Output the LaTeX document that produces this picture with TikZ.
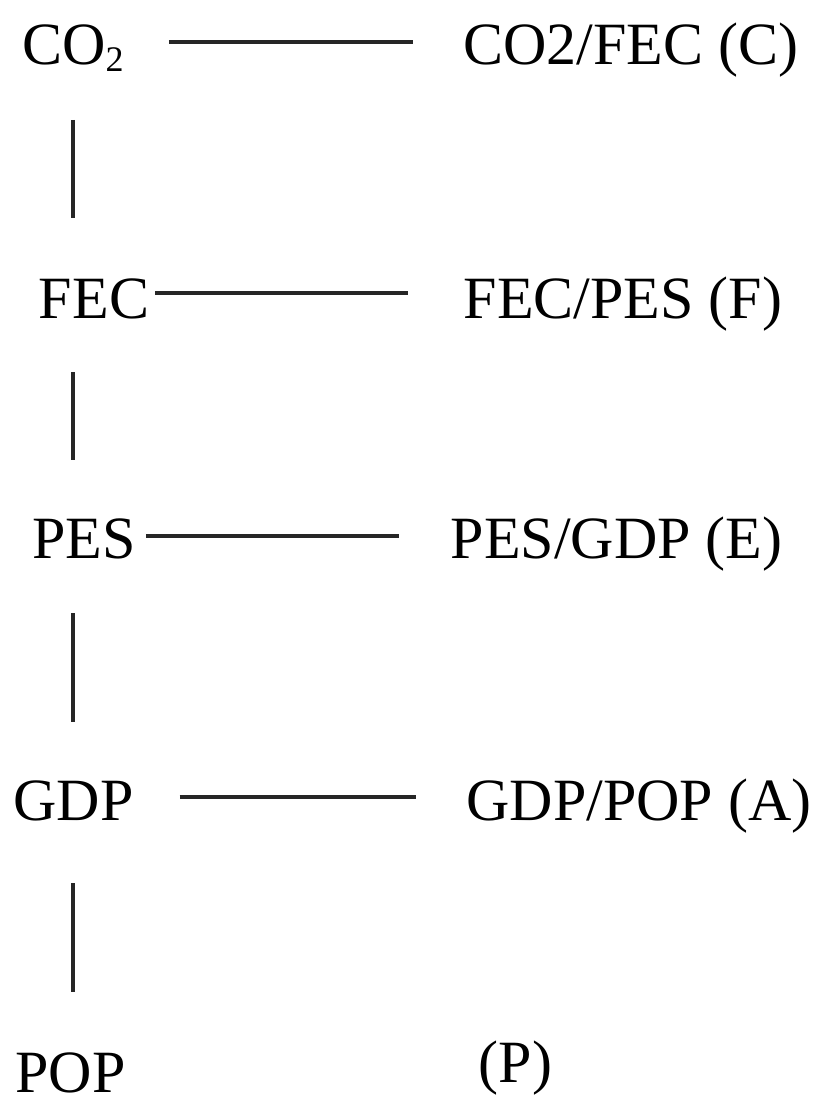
\documentclass[tikz,border=0pt]{standalone}
\usepackage{fontspec}
\setmainfont{Liberation Serif}
\usepackage{tikz}

\begin{document}
\begin{tikzpicture}[x=1pt, y=-1pt,
  term/.style={inner sep=0pt, anchor=base, font=\fontsize{60}{72}\selectfont},
  hlink/.style={line width=3.6pt, draw=black!85},
  vlink/.style={line width=3.2pt, draw=black!85}]
\useasboundingbox (0,0) rectangle (827,1115);

\node[term] (co2) at (73, 65) {CO\raisebox{-7pt}{\fontsize{36}{36}\selectfont 2}};
\node[term] (fec) at (94, 318) {FEC};
\node[term] (pes) at (84, 558) {PES};
\node[term] (gdp) at (73.5, 820) {GDP};
\node[term] (pop) at (70.5, 1092) {POP};

\node[term] (cfec) at (631, 65) {CO2/FEC (C)};
\node[term] (fpes) at (623, 318) {FEC/PES (F)};
\node[term] (pgdp) at (616.5, 558) {PES/GDP (E)};
\node[term] (gpop) at (639, 820) {GDP/POP (A)};
\node[term] (ppar) at (515.5, 1082) {(P)};

\coordinate (spine) at (73, 0);

\draw[hlink] ([xshift=45pt, yshift=23pt]co2.base east) -- ([xshift=-50pt, yshift=23pt]cfec.base west);
\draw[hlink] ([xshift=6pt, yshift=25pt]fec.base east) -- ([xshift=-56pt, yshift=25pt]fpes.base west);
\draw[hlink] ([xshift=10pt, yshift=22pt]pes.base east) -- ([xshift=-51pt, yshift=22pt]pgdp.base west);
\draw[hlink] ([xshift=46pt, yshift=23pt]gdp.base east) -- ([xshift=-50pt, yshift=23pt]gpop.base west);

\draw[vlink] ([yshift=-55pt]co2.base -| spine) -- ([yshift=100pt]fec.base -| spine);
\draw[vlink] ([yshift=-54pt]fec.base -| spine) -- ([yshift=98pt]pes.base -| spine);
\draw[vlink] ([yshift=-55pt]pes.base -| spine) -- ([yshift=98pt]gdp.base -| spine);
\draw[vlink] ([yshift=-63pt]gdp.base -| spine) -- ([yshift=100pt]pop.base -| spine);
\end{tikzpicture}
\end{document}
